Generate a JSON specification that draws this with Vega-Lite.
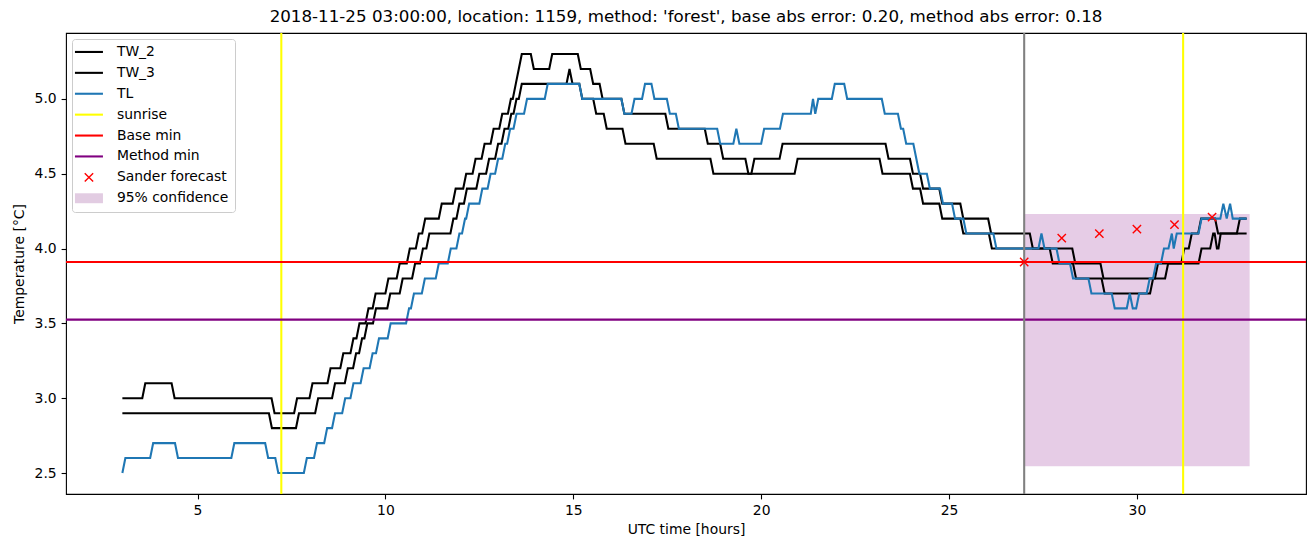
{
"$schema": "https://vega.github.io/schema/vega-lite/v6.json",
"width": 1240, "height": 461,
"autosize": {"type": "none"},
"padding": {"left": 66, "top": 33, "right": 9, "bottom": 53},
"background": "white",
"title": {"text": "2018-11-25 03:00:00, location: 1159, method: 'forest', base abs error: 0.20, method abs error: 0.18", "fontSize": 16.7, "font": "DejaVu Sans", "fontWeight": "normal", "color": "black", "offset": 6, "anchor": "middle"},
"config": {
 "font": "DejaVu Sans",
 "view": {"stroke": "black", "strokeWidth": 1.1},
 "axis": {"domain": false, "grid": false, "ticks": true, "tickColor": "black", "tickSize": 4.9, "tickWidth": 1.1, "labelFontSize": 13.9, "labelColor": "black", "labelPadding": 4.9, "titleFontSize": 13.9, "titleFontWeight": "normal", "titleColor": "black", "labelFont": "DejaVu Sans", "titleFont": "DejaVu Sans"}
},
"datasets": {
 "band": [{"x1": 27.0, "x2": 33.0, "y1": 2.545, "y2": 4.23}],
 "vr": [{"x": 7.23}, {"x": 31.23}],
 "gr": [{"x": 27.0}],
 "hb": [{"y": 3.91}],
 "hm": [{"y": 3.525}],
 "pts": [{"t": 27, "v": 3.91}, {"t": 28, "v": 4.07}, {"t": 29, "v": 4.10}, {"t": 30, "v": 4.13}, {"t": 31, "v": 4.16}, {"t": 32, "v": 4.21}],
 "lines": [
{"s":"TW_2","t":3.0,"v":3.0},{"s":"TW_2","t":3.53,"v":3.0},{"s":"TW_2","t":3.61,"v":3.1},{"s":"TW_2","t":4.31,"v":3.1},{"s":"TW_2","t":4.39,"v":3.0},{"s":"TW_2","t":6.97,"v":3.0},{"s":"TW_2","t":7.05,"v":2.9},{"s":"TW_2","t":7.57,"v":2.9},{"s":"TW_2","t":7.65,"v":3.0},{"s":"TW_2","t":7.98,"v":3.0},{"s":"TW_2","t":8.06,"v":3.1},{"s":"TW_2","t":8.46,"v":3.1},{"s":"TW_2","t":8.54,"v":3.2},{"s":"TW_2","t":8.8,"v":3.2},{"s":"TW_2","t":8.88,"v":3.3},{"s":"TW_2","t":9.07,"v":3.3},{"s":"TW_2","t":9.15,"v":3.4},{"s":"TW_2","t":9.23,"v":3.4},{"s":"TW_2","t":9.31,"v":3.5},{"s":"TW_2","t":9.47,"v":3.5},{"s":"TW_2","t":9.55,"v":3.6},{"s":"TW_2","t":9.66,"v":3.6},{"s":"TW_2","t":9.74,"v":3.7},{"s":"TW_2","t":10.0,"v":3.7},{"s":"TW_2","t":10.08,"v":3.8},{"s":"TW_2","t":10.3,"v":3.8},{"s":"TW_2","t":10.38,"v":3.9},{"s":"TW_2","t":10.57,"v":3.9},{"s":"TW_2","t":10.65,"v":4.0},{"s":"TW_2","t":10.81,"v":4.0},{"s":"TW_2","t":10.89,"v":4.1},{"s":"TW_2","t":10.98,"v":4.1},{"s":"TW_2","t":11.06,"v":4.2},{"s":"TW_2","t":11.42,"v":4.2},{"s":"TW_2","t":11.5,"v":4.3},{"s":"TW_2","t":11.79,"v":4.3},{"s":"TW_2","t":11.87,"v":4.4},{"s":"TW_2","t":12.07,"v":4.4},{"s":"TW_2","t":12.15,"v":4.5},{"s":"TW_2","t":12.32,"v":4.5},{"s":"TW_2","t":12.4,"v":4.6},{"s":"TW_2","t":12.56,"v":4.6},{"s":"TW_2","t":12.64,"v":4.7},{"s":"TW_2","t":12.8,"v":4.7},{"s":"TW_2","t":12.88,"v":4.8},{"s":"TW_2","t":13.03,"v":4.8},{"s":"TW_2","t":13.11,"v":4.9},{"s":"TW_2","t":13.26,"v":4.9},{"s":"TW_2","t":13.34,"v":5.0},{"s":"TW_2","t":13.39,"v":5.0},{"s":"TW_2","t":13.47,"v":5.1},{"s":"TW_2","t":13.55,"v":5.2},{"s":"TW_2","t":13.63,"v":5.3},{"s":"TW_2","t":13.87,"v":5.3},{"s":"TW_2","t":13.95,"v":5.2},{"s":"TW_2","t":14.36,"v":5.2},{"s":"TW_2","t":14.44,"v":5.3},{"s":"TW_2","t":15.12,"v":5.3},{"s":"TW_2","t":15.2,"v":5.2},{"s":"TW_2","t":15.45,"v":5.2},{"s":"TW_2","t":15.53,"v":5.1},{"s":"TW_2","t":15.7,"v":5.1},{"s":"TW_2","t":15.78,"v":5.0},{"s":"TW_2","t":16.28,"v":5.0},{"s":"TW_2","t":16.36,"v":4.9},{"s":"TW_2","t":17.45,"v":4.9},{"s":"TW_2","t":17.53,"v":4.8},{"s":"TW_2","t":18.5,"v":4.8},{"s":"TW_2","t":18.58,"v":4.7},{"s":"TW_2","t":18.91,"v":4.7},{"s":"TW_2","t":18.99,"v":4.6},{"s":"TW_2","t":19.58,"v":4.6},{"s":"TW_2","t":19.66,"v":4.5},{"s":"TW_2","t":19.74,"v":4.5},{"s":"TW_2","t":19.82,"v":4.6},{"s":"TW_2","t":20.49,"v":4.6},{"s":"TW_2","t":20.57,"v":4.7},{"s":"TW_2","t":23.31,"v":4.7},{"s":"TW_2","t":23.39,"v":4.6},{"s":"TW_2","t":23.96,"v":4.6},{"s":"TW_2","t":24.04,"v":4.5},{"s":"TW_2","t":24.23,"v":4.5},{"s":"TW_2","t":24.31,"v":4.4},{"s":"TW_2","t":24.74,"v":4.4},{"s":"TW_2","t":24.82,"v":4.3},{"s":"TW_2","t":25.3,"v":4.3},{"s":"TW_2","t":25.38,"v":4.2},{"s":"TW_2","t":26.04,"v":4.2},{"s":"TW_2","t":26.12,"v":4.1},{"s":"TW_2","t":27.15,"v":4.1},{"s":"TW_2","t":27.23,"v":4.0},{"s":"TW_2","t":28.28,"v":4.0},{"s":"TW_2","t":28.36,"v":3.9},{"s":"TW_2","t":29.03,"v":3.9},{"s":"TW_2","t":29.11,"v":3.8},{"s":"TW_2","t":30.75,"v":3.8},{"s":"TW_2","t":30.83,"v":3.9},{"s":"TW_2","t":31.18,"v":3.9},{"s":"TW_2","t":31.26,"v":4.0},{"s":"TW_2","t":31.38,"v":4.0},{"s":"TW_2","t":31.46,"v":4.1},{"s":"TW_2","t":31.63,"v":4.1},{"s":"TW_2","t":31.71,"v":4.2},{"s":"TW_2","t":32.08,"v":4.2},{"s":"TW_2","t":32.16,"v":4.1},{"s":"TW_2","t":32.66,"v":4.1},{"s":"TW_2","t":32.74,"v":4.2},{"s":"TW_2","t":32.92,"v":4.2},
{"s":"TW_3","t":3.0,"v":2.9},{"s":"TW_3","t":6.9,"v":2.9},{"s":"TW_3","t":6.98,"v":2.8},{"s":"TW_3","t":7.62,"v":2.8},{"s":"TW_3","t":7.7,"v":2.9},{"s":"TW_3","t":8.13,"v":2.9},{"s":"TW_3","t":8.21,"v":3.0},{"s":"TW_3","t":8.58,"v":3.0},{"s":"TW_3","t":8.66,"v":3.1},{"s":"TW_3","t":8.92,"v":3.1},{"s":"TW_3","t":9.0,"v":3.2},{"s":"TW_3","t":9.14,"v":3.2},{"s":"TW_3","t":9.22,"v":3.3},{"s":"TW_3","t":9.3,"v":3.3},{"s":"TW_3","t":9.38,"v":3.4},{"s":"TW_3","t":9.44,"v":3.4},{"s":"TW_3","t":9.52,"v":3.5},{"s":"TW_3","t":9.67,"v":3.5},{"s":"TW_3","t":9.75,"v":3.6},{"s":"TW_3","t":10.05,"v":3.6},{"s":"TW_3","t":10.13,"v":3.7},{"s":"TW_3","t":10.38,"v":3.7},{"s":"TW_3","t":10.46,"v":3.8},{"s":"TW_3","t":10.71,"v":3.8},{"s":"TW_3","t":10.79,"v":3.9},{"s":"TW_3","t":10.92,"v":3.9},{"s":"TW_3","t":11.0,"v":4.0},{"s":"TW_3","t":11.09,"v":4.0},{"s":"TW_3","t":11.17,"v":4.1},{"s":"TW_3","t":11.73,"v":4.1},{"s":"TW_3","t":11.81,"v":4.2},{"s":"TW_3","t":11.89,"v":4.2},{"s":"TW_3","t":11.97,"v":4.3},{"s":"TW_3","t":12.09,"v":4.3},{"s":"TW_3","t":12.17,"v":4.4},{"s":"TW_3","t":12.42,"v":4.4},{"s":"TW_3","t":12.5,"v":4.5},{"s":"TW_3","t":12.68,"v":4.5},{"s":"TW_3","t":12.76,"v":4.6},{"s":"TW_3","t":12.92,"v":4.6},{"s":"TW_3","t":13.0,"v":4.7},{"s":"TW_3","t":13.09,"v":4.7},{"s":"TW_3","t":13.17,"v":4.8},{"s":"TW_3","t":13.27,"v":4.8},{"s":"TW_3","t":13.35,"v":4.9},{"s":"TW_3","t":13.41,"v":4.9},{"s":"TW_3","t":13.49,"v":5.0},{"s":"TW_3","t":13.55,"v":5.0},{"s":"TW_3","t":13.63,"v":5.1},{"s":"TW_3","t":14.82,"v":5.1},{"s":"TW_3","t":14.9,"v":5.2},{"s":"TW_3","t":14.98,"v":5.1},{"s":"TW_3","t":15.16,"v":5.1},{"s":"TW_3","t":15.24,"v":5.0},{"s":"TW_3","t":15.53,"v":5.0},{"s":"TW_3","t":15.61,"v":4.9},{"s":"TW_3","t":15.81,"v":4.9},{"s":"TW_3","t":15.89,"v":4.8},{"s":"TW_3","t":16.31,"v":4.8},{"s":"TW_3","t":16.39,"v":4.7},{"s":"TW_3","t":17.14,"v":4.7},{"s":"TW_3","t":17.22,"v":4.6},{"s":"TW_3","t":18.65,"v":4.6},{"s":"TW_3","t":18.73,"v":4.5},{"s":"TW_3","t":20.89,"v":4.5},{"s":"TW_3","t":20.97,"v":4.6},{"s":"TW_3","t":23.15,"v":4.6},{"s":"TW_3","t":23.23,"v":4.5},{"s":"TW_3","t":23.96,"v":4.5},{"s":"TW_3","t":24.04,"v":4.4},{"s":"TW_3","t":24.23,"v":4.4},{"s":"TW_3","t":24.31,"v":4.3},{"s":"TW_3","t":24.74,"v":4.3},{"s":"TW_3","t":24.82,"v":4.2},{"s":"TW_3","t":25.3,"v":4.2},{"s":"TW_3","t":25.38,"v":4.1},{"s":"TW_3","t":26.06,"v":4.1},{"s":"TW_3","t":26.14,"v":4.0},{"s":"TW_3","t":27.68,"v":4.0},{"s":"TW_3","t":27.76,"v":3.9},{"s":"TW_3","t":28.3,"v":3.9},{"s":"TW_3","t":28.38,"v":3.8},{"s":"TW_3","t":29.06,"v":3.8},{"s":"TW_3","t":29.14,"v":3.7},{"s":"TW_3","t":30.35,"v":3.7},{"s":"TW_3","t":30.43,"v":3.8},{"s":"TW_3","t":30.48,"v":3.8},{"s":"TW_3","t":30.56,"v":3.9},{"s":"TW_3","t":31.64,"v":3.9},{"s":"TW_3","t":31.72,"v":4.0},{"s":"TW_3","t":31.95,"v":4.0},{"s":"TW_3","t":32.03,"v":4.1},{"s":"TW_3","t":32.07,"v":4.1},{"s":"TW_3","t":32.13,"v":4.0},{"s":"TW_3","t":32.17,"v":4.0},{"s":"TW_3","t":32.23,"v":4.1},{"s":"TW_3","t":32.92,"v":4.1},
{"s":"TL","t":3.0,"v":2.5},{"s":"TL","t":3.08,"v":2.6},{"s":"TL","t":3.74,"v":2.6},{"s":"TL","t":3.82,"v":2.7},{"s":"TL","t":4.4,"v":2.7},{"s":"TL","t":4.48,"v":2.6},{"s":"TL","t":5.9,"v":2.6},{"s":"TL","t":5.98,"v":2.7},{"s":"TL","t":6.8,"v":2.7},{"s":"TL","t":6.88,"v":2.6},{"s":"TL","t":7.07,"v":2.6},{"s":"TL","t":7.15,"v":2.5},{"s":"TL","t":7.83,"v":2.5},{"s":"TL","t":7.91,"v":2.6},{"s":"TL","t":8.1,"v":2.6},{"s":"TL","t":8.18,"v":2.7},{"s":"TL","t":8.37,"v":2.7},{"s":"TL","t":8.45,"v":2.8},{"s":"TL","t":8.58,"v":2.8},{"s":"TL","t":8.66,"v":2.9},{"s":"TL","t":8.85,"v":2.9},{"s":"TL","t":8.93,"v":3.0},{"s":"TL","t":9.07,"v":3.0},{"s":"TL","t":9.15,"v":3.1},{"s":"TL","t":9.34,"v":3.1},{"s":"TL","t":9.42,"v":3.2},{"s":"TL","t":9.58,"v":3.2},{"s":"TL","t":9.66,"v":3.3},{"s":"TL","t":9.75,"v":3.3},{"s":"TL","t":9.83,"v":3.4},{"s":"TL","t":10.06,"v":3.4},{"s":"TL","t":10.14,"v":3.5},{"s":"TL","t":10.55,"v":3.5},{"s":"TL","t":10.63,"v":3.6},{"s":"TL","t":10.68,"v":3.6},{"s":"TL","t":10.76,"v":3.7},{"s":"TL","t":10.97,"v":3.7},{"s":"TL","t":11.05,"v":3.8},{"s":"TL","t":11.34,"v":3.8},{"s":"TL","t":11.42,"v":3.9},{"s":"TL","t":11.66,"v":3.9},{"s":"TL","t":11.74,"v":4.0},{"s":"TL","t":11.89,"v":4.0},{"s":"TL","t":11.97,"v":4.1},{"s":"TL","t":12.04,"v":4.1},{"s":"TL","t":12.12,"v":4.2},{"s":"TL","t":12.15,"v":4.2},{"s":"TL","t":12.23,"v":4.3},{"s":"TL","t":12.5,"v":4.3},{"s":"TL","t":12.58,"v":4.4},{"s":"TL","t":12.72,"v":4.4},{"s":"TL","t":12.8,"v":4.5},{"s":"TL","t":12.92,"v":4.5},{"s":"TL","t":13.0,"v":4.6},{"s":"TL","t":13.11,"v":4.6},{"s":"TL","t":13.19,"v":4.7},{"s":"TL","t":13.24,"v":4.7},{"s":"TL","t":13.32,"v":4.8},{"s":"TL","t":13.41,"v":4.8},{"s":"TL","t":13.49,"v":4.9},{"s":"TL","t":13.69,"v":4.9},{"s":"TL","t":13.77,"v":5.0},{"s":"TL","t":14.24,"v":5.0},{"s":"TL","t":14.32,"v":5.1},{"s":"TL","t":15.16,"v":5.1},{"s":"TL","t":15.24,"v":5.0},{"s":"TL","t":16.28,"v":5.0},{"s":"TL","t":16.36,"v":4.9},{"s":"TL","t":16.55,"v":4.9},{"s":"TL","t":16.63,"v":5.0},{"s":"TL","t":16.83,"v":5.0},{"s":"TL","t":16.91,"v":5.1},{"s":"TL","t":17.08,"v":5.1},{"s":"TL","t":17.16,"v":5.0},{"s":"TL","t":17.49,"v":5.0},{"s":"TL","t":17.57,"v":4.9},{"s":"TL","t":17.73,"v":4.9},{"s":"TL","t":17.81,"v":4.8},{"s":"TL","t":18.83,"v":4.8},{"s":"TL","t":18.91,"v":4.7},{"s":"TL","t":19.26,"v":4.7},{"s":"TL","t":19.34,"v":4.8},{"s":"TL","t":19.42,"v":4.7},{"s":"TL","t":20.0,"v":4.7},{"s":"TL","t":20.08,"v":4.8},{"s":"TL","t":20.5,"v":4.8},{"s":"TL","t":20.58,"v":4.9},{"s":"TL","t":21.32,"v":4.9},{"s":"TL","t":21.38,"v":5.0},{"s":"TL","t":21.44,"v":4.9},{"s":"TL","t":21.52,"v":5.0},{"s":"TL","t":21.88,"v":5.0},{"s":"TL","t":21.96,"v":5.1},{"s":"TL","t":22.21,"v":5.1},{"s":"TL","t":22.29,"v":5.0},{"s":"TL","t":23.21,"v":5.0},{"s":"TL","t":23.29,"v":4.9},{"s":"TL","t":23.64,"v":4.9},{"s":"TL","t":23.72,"v":4.8},{"s":"TL","t":23.78,"v":4.8},{"s":"TL","t":23.86,"v":4.7},{"s":"TL","t":24.05,"v":4.7},{"s":"TL","t":24.13,"v":4.6},{"s":"TL","t":24.21,"v":4.5},{"s":"TL","t":24.41,"v":4.5},{"s":"TL","t":24.49,"v":4.4},{"s":"TL","t":24.76,"v":4.4},{"s":"TL","t":24.84,"v":4.3},{"s":"TL","t":25.08,"v":4.3},{"s":"TL","t":25.16,"v":4.2},{"s":"TL","t":25.38,"v":4.2},{"s":"TL","t":25.46,"v":4.1},{"s":"TL","t":26.18,"v":4.1},{"s":"TL","t":26.26,"v":4.0},{"s":"TL","t":27.38,"v":4.0},{"s":"TL","t":27.46,"v":4.1},{"s":"TL","t":27.54,"v":4.0},{"s":"TL","t":27.86,"v":4.0},{"s":"TL","t":27.94,"v":3.9},{"s":"TL","t":28.22,"v":3.9},{"s":"TL","t":28.3,"v":3.8},{"s":"TL","t":28.71,"v":3.8},{"s":"TL","t":28.79,"v":3.7},{"s":"TL","t":29.33,"v":3.7},{"s":"TL","t":29.41,"v":3.6},{"s":"TL","t":29.73,"v":3.6},{"s":"TL","t":29.81,"v":3.7},{"s":"TL","t":29.89,"v":3.6},{"s":"TL","t":29.98,"v":3.6},{"s":"TL","t":30.06,"v":3.7},{"s":"TL","t":30.26,"v":3.7},{"s":"TL","t":30.34,"v":3.8},{"s":"TL","t":30.43,"v":3.8},{"s":"TL","t":30.51,"v":3.9},{"s":"TL","t":30.64,"v":3.9},{"s":"TL","t":30.72,"v":4.0},{"s":"TL","t":30.84,"v":4.0},{"s":"TL","t":30.93,"v":4.1},{"s":"TL","t":30.98,"v":4.0},{"s":"TL","t":31.06,"v":4.1},{"s":"TL","t":31.64,"v":4.1},{"s":"TL","t":31.72,"v":4.2},{"s":"TL","t":32.22,"v":4.2},{"s":"TL","t":32.3,"v":4.3},{"s":"TL","t":32.39,"v":4.2},{"s":"TL","t":32.48,"v":4.3},{"s":"TL","t":32.55,"v":4.2},{"s":"TL","t":32.92,"v":4.2}
 ]
},
"layer": [
 {"data": {"name": "band"}, "mark": {"type": "rect", "fill": "purple", "fillOpacity": 0.2},
  "encoding": {
   "x": {"field": "x1", "type": "quantitative", "scale": {"domain": [1.5, 34.5], "nice": false, "zero": false}, "axis": {"title": "UTC time [hours]", "values": [5,10,15,20,25,30], "format": "d", "titlePadding": 5}},
   "x2": {"field": "x2"},
   "y": {"field": "y1", "type": "quantitative", "scale": {"domain": [2.36, 5.44], "nice": false, "zero": false}, "axis": {"title": "Temperature [°C]", "values": [2.5,3,3.5,4,4.5,5], "format": ".1f", "titlePadding": 8}},
   "y2": {"field": "y2"}}},
 {"data": {"name": "lines"}, "mark": {"type": "line", "strokeWidth": 2.08, "interpolate": "linear"},
  "encoding": {
   "x": {"field": "t", "type": "quantitative", "axis": {"title": "UTC time [hours]", "values": [5,10,15,20,25,30], "format": "d", "titlePadding": 5}},
   "y": {"field": "v", "type": "quantitative", "axis": {"title": "Temperature [°C]", "values": [2.5,3,3.5,4,4.5,5], "format": ".1f", "titlePadding": 8}},
   "color": {"field": "s", "type": "nominal",
     "scale": {"domain": ["TW_2","TW_3","TL","sunrise","Base min","Method min","Sander forecast","95% confidence"], "range": ["black","black","#1f77b4","yellow","red","purple","red","#e2cce2"]},
     "legend": {"title": null, "orient": "none", "legendX": 6, "legendY": 6, "padding": 6, "rowPadding": 5.9, "labelFontSize": 13.9, "labelFont": "DejaVu Sans", "labelColor": "black", "labelOffset": 21, "symbolSize": 196, "symbolOffset": 4, "strokeColor": "#cccccc", "fillColor": "rgba(255,255,255,0.8)", "cornerRadius": 3, "labelLimit": 400, "symbolType": "M-2,0H2", "symbolStrokeWidth": 2.08,
       "encode": {"symbols": {"update": {
         "shape": {"signal": "datum.value === 'Sander forecast' ? 'M-0.6,-0.6L0.6,0.6M0.6,-0.6L-0.6,0.6' : datum.value === '95% confidence' ? 'M-2,-0.71H2V0.71H-2Z' : 'M-2,0H2'"},
         "fill": {"signal": "datum.value === '95% confidence' ? '#e2cce2' : 'transparent'"},
         "strokeWidth": {"signal": "datum.value === 'Sander forecast' ? 1.4 : datum.value === '95% confidence' ? 0 : 2.08"}
       }}}}
   }}},
 {"data": {"name": "vr"}, "mark": {"type": "rule", "color": "yellow", "strokeWidth": 2.08},
  "encoding": {"x": {"field": "x", "type": "quantitative", "axis": {"title": "UTC time [hours]", "values": [5,10,15,20,25,30], "format": "d", "titlePadding": 5}}}},
 {"data": {"name": "hb"}, "mark": {"type": "rule", "color": "red", "strokeWidth": 2.08},
  "encoding": {"y": {"field": "y", "type": "quantitative", "axis": {"title": "Temperature [°C]", "values": [2.5,3,3.5,4,4.5,5], "format": ".1f", "titlePadding": 8}}}},
 {"data": {"name": "hm"}, "mark": {"type": "rule", "color": "purple", "strokeWidth": 2.08},
  "encoding": {"y": {"field": "y", "type": "quantitative", "axis": {"title": "Temperature [°C]", "values": [2.5,3,3.5,4,4.5,5], "format": ".1f", "titlePadding": 8}}}},
 {"data": {"name": "gr"}, "mark": {"type": "rule", "color": "gray", "strokeWidth": 2.08},
  "encoding": {"x": {"field": "x", "type": "quantitative", "axis": {"title": "UTC time [hours]", "values": [5,10,15,20,25,30], "format": "d", "titlePadding": 5}}}},
 {"data": {"name": "pts"}, "mark": {"type": "point", "shape": "M-1,-1L1,1M1,-1L-1,1", "filled": false, "color": "red", "strokeWidth": 1.4, "size": 69, "opacity": 1},
  "encoding": {
   "x": {"field": "t", "type": "quantitative", "axis": {"title": "UTC time [hours]", "values": [5,10,15,20,25,30], "format": "d", "titlePadding": 5}},
   "y": {"field": "v", "type": "quantitative", "axis": {"title": "Temperature [°C]", "values": [2.5,3,3.5,4,4.5,5], "format": ".1f", "titlePadding": 8}}}}
]
}
